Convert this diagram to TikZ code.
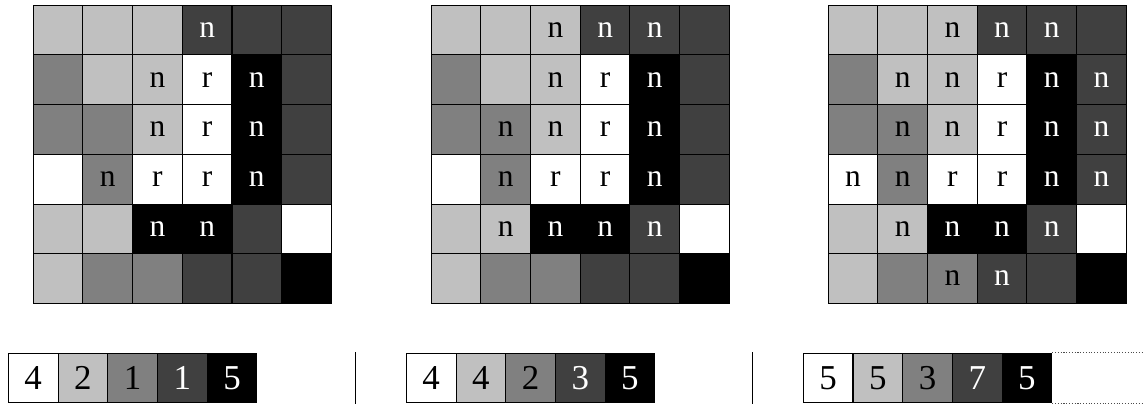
\documentclass[tikz,border=0pt]{standalone}
\usepackage{fontspec}
\setmainfont{Liberation Serif}
\definecolor{gl}{HTML}{C0C0C0}
\definecolor{gm}{HTML}{808080}
\definecolor{gd}{HTML}{404040}

\tikzset{
  cell/.style={draw=black, line width=0.6pt, minimum size=1cm, inner sep=0pt,
    anchor=north west, font=\fontsize{18}{21}\selectfont},
  wcell/.style={cell, fill=white, text=black},
  lcell/.style={cell, fill=gl, text=black},
  mcell/.style={cell, fill=gm, text=black},
  dcell/.style={cell, fill=gd, text=white},
  kcell/.style={cell, fill=black, text=white},
  barcell/.style={font=\fontsize{20}{24}\selectfont},
}

\begin{document}
\begin{tikzpicture}
  \useasboundingbox (0,0) rectangle (23,8.129);

  % Grila 1 si bara ei
  \begin{scope}[shift={(0.658,8.034)}]
    \foreach \row [count=\r] in {
      {l/,l/,l/,d/n,d/,d/},
      {m/,l/,l/n,w/r,k/n,d/},
      {m/,m/,l/n,w/r,k/n,d/},
      {w/,m/n,w/r,w/r,k/n,d/},
      {l/,l/,k/n,k/n,d/,w/},
      {l/,m/,m/,d/,d/,k/}}
    {
      \foreach \sty/\txt [count=\c] in \row
        \node[\sty cell] (a-\r-\c) at (\c-1,1-\r) {\txt};
    }
    \foreach \sty/\num [count=\c] in {w/4,l/2,m/1,d/1,k/5}
      \node[\sty cell, barcell] (ba-\c) at (\c-1.5,-7.0) {\num};
  \end{scope}

  % Grila 2 si bara ei
  \begin{scope}[shift={(8.666,8.034)}]
    \foreach \row [count=\r] in {
      {l/,l/,l/n,d/n,d/n,d/},
      {m/,l/,l/n,w/r,k/n,d/},
      {m/,m/n,l/n,w/r,k/n,d/},
      {w/,m/n,w/r,w/r,k/n,d/},
      {l/,l/n,k/n,k/n,d/n,w/},
      {l/,m/,m/,d/,d/,k/}}
    {
      \foreach \sty/\txt [count=\c] in \row
        \node[\sty cell] (b-\r-\c) at (\c-1,1-\r) {\txt};
    }
    \foreach \sty/\num [count=\c] in {w/4,l/4,m/2,d/3,k/5}
      \node[\sty cell, barcell] (bb-\c) at (\c-1.5,-7.0) {\num};
  \end{scope}

  % Grila 3 si bara ei
  \begin{scope}[shift={(16.654,8.034)}]
    \foreach \row [count=\r] in {
      {l/,l/,l/n,d/n,d/n,d/},
      {m/,l/n,l/n,w/r,k/n,d/n},
      {m/,m/n,l/n,w/r,k/n,d/n},
      {w/n,m/n,w/r,w/r,k/n,d/n},
      {l/,l/n,k/n,k/n,d/n,w/},
      {l/,m/,m/n,d/n,d/,k/}}
    {
      \foreach \sty/\txt [count=\c] in \row
        \node[\sty cell] (c-\r-\c) at (\c-1,1-\r) {\txt};
    }
    \foreach \sty/\num [count=\c] in {w/5,l/5,m/3,d/7,k/5}
      \node[\sty cell, barcell] (bc-\c) at (\c-1.5,-7.0) {\num};
    % celula goala, punctata
    \draw[black!70, densely dotted, line width=0.6pt] (bc-5.north east) -- ++(2.5,0);
    \draw[black!70, densely dotted, line width=0.6pt] (bc-5.south east) -- ++(2.5,0);
  \end{scope}

  % Separatoare
  \draw[line width=0.6pt] (7.153,0) -- (7.153,1.05);
  \draw[line width=0.6pt] (15.141,0) -- (15.141,1.05);
\end{tikzpicture}
\end{document}
